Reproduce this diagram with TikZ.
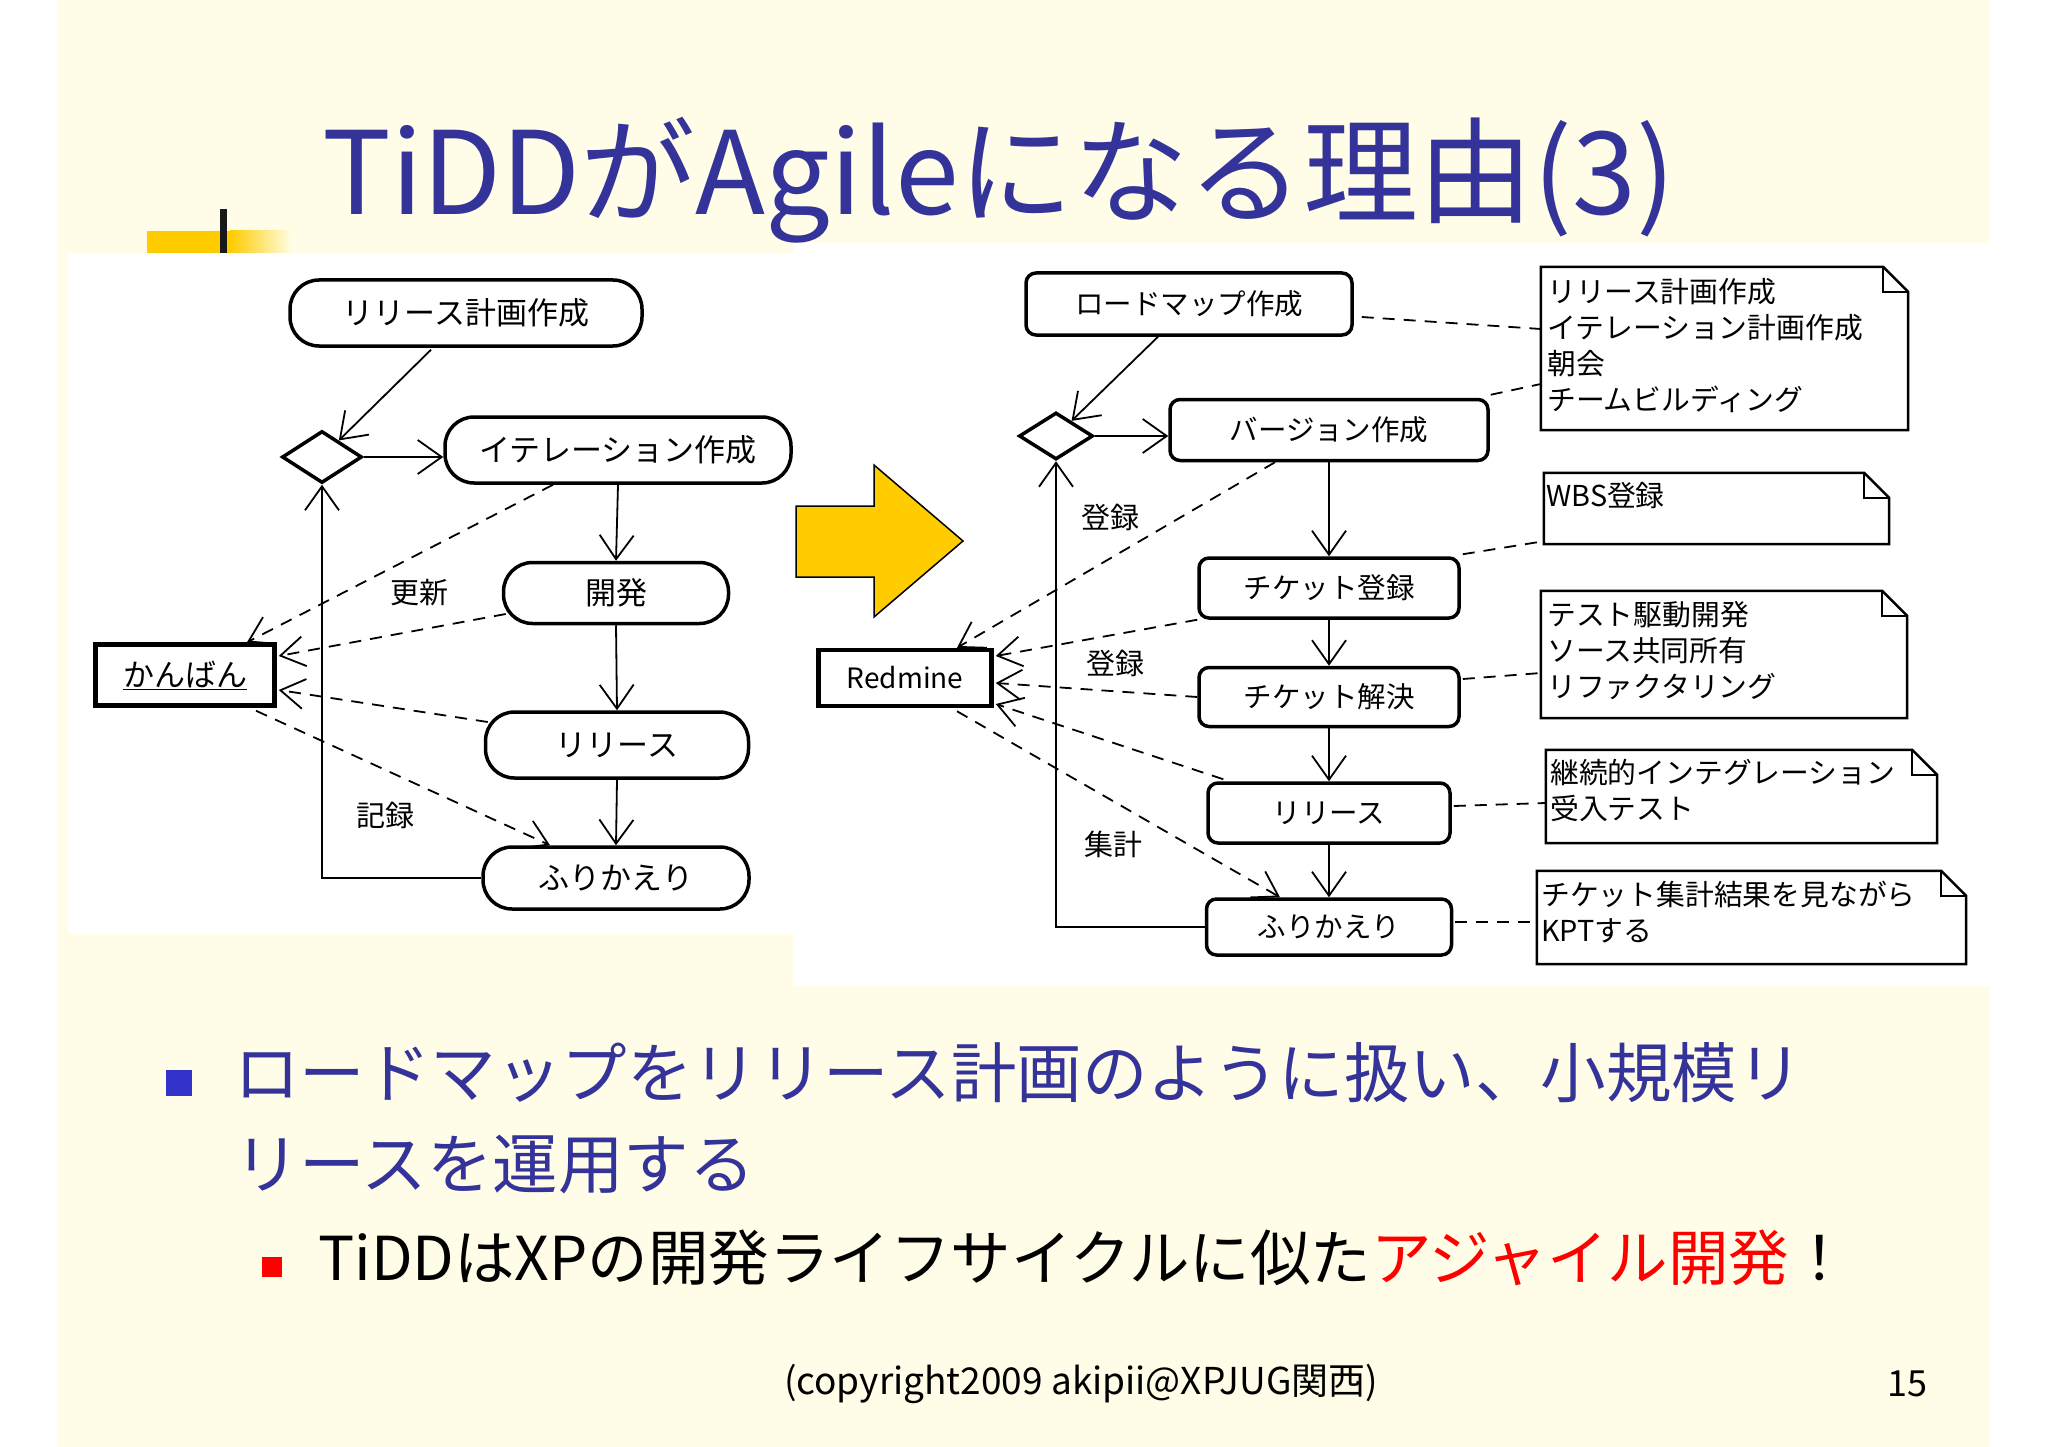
\documentclass[tikz,border=0pt]{standalone}
\usepackage{fontspec}
\setmainfont{Noto Sans CJK JP}
\usetikzlibrary{arrows.meta,shapes.geometric,calc}
\definecolor{cream}{RGB}{255,253,231}
\definecolor{titleblue}{RGB}{51,51,153}
\definecolor{bulletblue}{RGB}{51,51,204}
\definecolor{gold}{RGB}{255,204,0}
\newcommand\dogear[1]{%
  \draw[noteline] (#1.north west) -- ($(#1.north east)+(-25,0)$) -- ($(#1.north east)+(0,25)$) -- (#1.south east) -- (#1.south west) -- cycle;
  \draw[noteline] ($(#1.north east)+(-25,0)$) -- ($(#1.north east)+(-25,25)$) -- ($(#1.north east)+(0,25)$);}
\begin{document}
\begin{tikzpicture}[x=1pt,y=-1pt,
  pill/.style={draw,line width=3.5pt,rounded corners=29pt,inner sep=0pt,fill=white,font=\fontsize{31}{36}\selectfont},
  rbox/.style={draw,line width=3.5pt,rounded corners=10pt,inner sep=0pt,fill=white,font=\fontsize{28.5}{34}\selectfont},
  objbox/.style={draw,line width=4.5pt,inner sep=0pt,fill=white},
  decision/.style={diamond,draw,line width=3.5pt,inner sep=0pt,fill=white},
  lbl/.style={inner sep=0pt,font=\fontsize{29}{34}\selectfont},
  notebody/.style={inner sep=0pt},
  notetext/.style={anchor=north west,align=left,inner sep=0pt,font=\fontsize{28.8}{36}\selectfont},
  noteline/.style={line width=2.5pt},
  arr/.style={line width=1.8pt,-{Straight Barb[length=24pt,width=34pt]}},
  dline/.style={line width=1.8pt,dash pattern=on 12pt off 9pt},
  darr/.style={dline,-{Straight Barb[length=24pt,width=30pt]}},
]
\useasboundingbox (0,0) rectangle (2048,1447);
% background
\fill[white] (0,0) rectangle (2048,1447);
\fill[cream] (58,0) rectangle (1989,1447);
% title decoration
\fill[gold] (147,231) rectangle (231,253);
\shade[left color=gold,right color=cream] (230,231) rectangle (292,253);
\fill[black!90] (220,209) rectangle (227,253);
% title
\node[anchor=base west,inner sep=0pt,text=titleblue,font=\fontsize{115}{130}\selectfont] (title) at (322,215) {TiDDがAgileになる理由(3)};
% panels
\fill[white] (68,253) rectangle (794,934);
\fill[white] (794,243) rectangle (1989,986);

% ---------- left diagram ----------
\node[pill,minimum width=352pt,minimum height=66pt] (plan) at (466,313) {リリース計画作成};
\node[decision,minimum width=80pt,minimum height=52pt] (dia) at (322,457) {};
\node[pill,minimum width=346pt,minimum height=66pt] (iter) at (618,450) {イテレーション作成};
\node[pill,minimum width=225pt,minimum height=61pt] (dev) at (616,593) {開発};
\node[pill,minimum width=263pt,minimum height=66pt] (rel) at (617,745) {リリース};
\node[pill,minimum width=266pt,minimum height=62pt] (retro) at (616,878) {ふりかえり};
\node[objbox,minimum width=179pt,minimum height=61pt,font=\fontsize{31}{36}\selectfont] (kanban) at (185,675) {\underline{かんばん}};
\node[lbl] (l1) at (419,593) {更新};
\node[lbl] (l2) at (385,815) {記録};

\draw[arr] ($(plan.south)+(-35,2)$) -- (dia);
\draw[arr] (dia.east) -- (dia.east -| iter.west);
\draw[arr] (iter.south) -- (dev.north);
\draw[arr] (dev.south) -- (rel.north);
\draw[arr] (rel.south) -- (retro.north);
\draw[arr] (retro.west) -| (dia.south);
\draw[darr] ($(iter.south)+(-65,0)$) -- ($(kanban.north)+(62,0)$);
\draw[darr] ($(dev.west)+(4,21)$) -- ($(kanban.east)+(2,-19)$);
\draw[darr] ($(rel.west)+(4,-23)$) -- ($(kanban.east)+(2,15)$);
\draw[darr] ($(kanban.south)+(71,3)$) -- ($(retro.north)+(-66,0)$);

% ---------- arrow between ----------
\draw[fill=gold,line width=1.5pt,line join=miter] (796,506) -- (874,506) -- (874,465) -- (963,541) -- (874,617) -- (874,577) -- (796,577) -- cycle;

% ---------- right diagram ----------
\node[rbox,minimum width=326pt,minimum height=62pt] (road) at (1189,304) {ロードマップ作成};
\node[decision,minimum width=74pt,minimum height=47pt] (rdia) at (1056,436) {};
\node[rbox,minimum width=318pt,minimum height=61pt] (ver) at (1329,430) {バージョン作成};
\node[rbox,minimum width=260pt,minimum height=60pt] (tr) at (1329,588) {チケット登録};
\node[rbox,minimum width=260pt,minimum height=59pt] (ts) at (1329,697) {チケット解決};
\node[rbox,minimum width=242pt,minimum height=60pt] (rrel) at (1329,813) {リリース};
\node[rbox,minimum width=245pt,minimum height=56pt] (rretro) at (1329,927) {ふりかえり};
\node[objbox,minimum width=173pt,minimum height=56pt,font=\fontsize{28}{34}\selectfont] (redmine) at (905,678) {Redmine};
\node[lbl] (l3) at (1110,517) {登録};
\node[lbl] (l4) at (1115,663) {登録};
\node[lbl] (l5) at (1113,844) {集計};

\draw[arr] ($(road.south)+(-31,0)$) -- (rdia);
\draw[arr] (rdia.east) -- (rdia.east -| ver.west);
\draw[arr] (ver.south) -- (tr.north);
\draw[arr] (tr.south) -- (ts.north);
\draw[arr] (ts.south) -- (rrel.north);
\draw[arr] (rrel.south) -- (rretro.north);
\draw[arr] (rretro.west) -| (rdia.south);
\draw[darr] ($(ver.south)+(-54,0)$) -- ($(redmine.north)+(52,0)$);
\draw[darr] (tr.south west) -- ($(redmine.east)+(2,-22)$);
\draw[darr] (ts.west) -- ($(redmine.east)+(2,5)$);
\draw[darr] ($(rrel.north west)+(17,-2)$) -- ($(redmine.east)+(2,26)$);
\draw[darr] ($(redmine.south)+(52,3)$) -- ($(rretro.north)+(-49,0)$);

% notes
\node[notebody,minimum width=367pt,minimum height=163pt] (n1) at (1724.5,348.5) {};
\node[notebody,minimum width=345pt,minimum height=71pt] (n2) at (1716.5,508.5) {};
\node[notebody,minimum width=366pt,minimum height=127pt] (n3) at (1724,654.5) {};
\node[notebody,minimum width=391pt,minimum height=93pt] (n4) at (1741.5,796.5) {};
\node[notebody,minimum width=429pt,minimum height=93pt] (n5) at (1751.5,917.5) {};
\dogear{n1}\dogear{n2}\dogear{n3}\dogear{n4}\dogear{n5}
\node[notetext] (t1) at (1547,278) {リリース計画作成\\イテレーション計画作成\\朝会\\チームビルディング};
\node[notetext] (t2) at (1546,482) {WBS登録};
\node[notetext] (t3) at (1547,601) {テスト駆動開発\\ソース共同所有\\リファクタリング};
\node[notetext] (t4) at (1550,759) {継続的インテグレーション\\受入テスト};
\node[notetext] (t5) at (1541,881) {チケット集計結果を見ながら\\KPTする};

\draw[dline] ($(road.east)+(8,13)$) -- ($(n1.west)+(0,-19.5)$);
\draw[dline] ($(ver.north east)+(1,-3)$) -- ($(n1.west)+(0,35.5)$);
\draw[dline] ($(tr.north east)+(2,-2)$) -- ($(n2.south west)+(0,-3)$);
\draw[dline] ($(ts.east)+(2,-18)$) -- ($(n3.west)+(0,18.5)$);
\draw[dline] ($(rrel.east)+(2,-7)$) -- ($(n4.west)+(0,6.5)$);
\draw[dline] ($(rretro.east)+(2,-5)$) -- ($(n5.west)+(0,4.5)$);

% ---------- bullets ----------
\fill[bulletblue] (166,1070) rectangle (192,1096);
\node[anchor=base west,inner sep=0pt,text=titleblue,font=\fontsize{65.5}{90}\selectfont] (b1a) at (234,1097) {ロードマップをリリース計画のように扱い、小規模リ};
\node[anchor=base west,inner sep=0pt,text=titleblue,font=\fontsize{65.5}{90}\selectfont] (b1b) at (234,1188) {リースを運用する};
\fill[red] (262,1257) rectangle (282,1277);
\node[anchor=base west,inner sep=0pt,font=\fontsize{60.5}{70}\selectfont] (b2) at (318,1280) {TiDDはXPの開発ライフサイクルに似た\textcolor{red}{アジャイル開発}！};
% footer
\node[inner sep=0pt,font=\fontsize{37}{42}\selectfont] (foot) at (1081,1384) {(copyright2009 akipii@XPJUG関西)};
\node[inner sep=0pt,font=\fontsize{36}{42}\selectfont] (pg) at (1907,1384) {15};
\end{tikzpicture}
\end{document}
